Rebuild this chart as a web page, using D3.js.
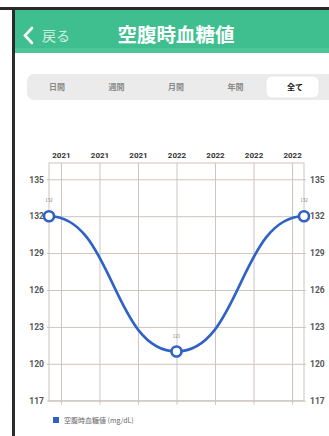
<!DOCTYPE html>
<html>
<head>
<meta charset="utf-8">
<script src="https://cdn.jsdelivr.net/npm/d3@7"></script>
<style>
  body { margin: 0; background: #fff; }
  svg { display: block; font-family: "Noto Sans CJK JP", "Noto Sans", sans-serif; }
</style>
</head>
<body>
<div id="chart"></div>
<script>
// データ
var tabs = ["日間", "週間", "月間", "年間", "全て"];
var xTickLabels = ["2021", "2021", "2021", "2022", "2022", "2022", "2022"];
var yTicks = [117, 120, 123, 126, 129, 132, 135];
var pointIndex = [0, 1, 2];
var values = [132, 121, 132];
var seriesName = "空腹時血糖値 (mg/dL)";

var W = 329, H = 436;
var svg = d3.select("#chart").append("svg")
  .attr("width", W)
  .attr("height", H);

// 画面の枠
svg.append("rect").attr("x", 0).attr("y", 7).attr("width", W).attr("height", 3).attr("fill", "#2a2a2a");
svg.append("rect").attr("x", 12).attr("y", 7).attr("width", 3).attr("height", H).attr("fill", "#2a2a2a");

// ヘッダー
svg.append("rect").attr("x", 15).attr("y", 10).attr("width", W).attr("height", 43).attr("fill", "#3fbf8f");
svg.append("rect").attr("x", 15).attr("y", 48).attr("width", W).attr("height", 5).attr("fill", "#4cc598");
svg.append("path")
  .attr("d", "M32,28 L25,35.5 L32,43")
  .attr("fill", "none").attr("stroke", "#fff").attr("stroke-width", 2.6).attr("stroke-linecap", "round");
svg.append("text").attr("x", 42).attr("y", 41).attr("fill", "#fff").attr("fill-opacity", 0.75)
  .attr("font-size", 14).text("戻る");
svg.append("text").attr("x", 176).attr("y", 42).attr("fill", "#fff").attr("text-anchor", "middle")
  .attr("font-size", 19.5).attr("font-weight", 700).text("空腹時血糖値");

// 期間タブ
svg.append("rect").attr("x", 27).attr("y", 74).attr("width", 320).attr("height", 26).attr("rx", 7)
  .attr("fill", "#ebebeb");
var tabX = d3.scalePoint().domain(tabs).range([57, 295]);
svg.append("rect").attr("x", 266).attr("y", 76).attr("width", 53).attr("height", 22).attr("rx", 6)
  .attr("fill", "#fff").attr("stroke", "#ddd").attr("stroke-width", 0.6);
svg.append("g").selectAll("text").data(tabs).enter().append("text")
  .attr("x", d => tabX(d)).attr("y", 90)
  .attr("text-anchor", "middle").attr("font-size", 8).attr("font-weight", 700)
  .attr("fill", d => d == "全て" ? "#111" : "#8a8a8a")
  .text(d => d);

// チャート
var plotL = 49, plotR = 304, plotT = 163, plotB = 400.7;
var y = d3.scaleLinear().domain([117, 135]).range([plotB, 179.3]);
var x = d3.scaleLinear().domain([0, 2]).range([plotL, plotR]);
var xGrid = d3.scalePoint().domain(d3.range(xTickLabels.length)).range([plotL, plotR]).padding(0.31);

var gridColor = "#cdc4bd";

// 縦グリッド + 上ラベル
var gx = svg.append("g").attr("transform", "translate(0," + plotT + ")")
  .call(d3.axisTop(xGrid).tickSize(-(plotB - plotT) - 4).tickPadding(5).tickFormat(i => xTickLabels[i]));
gx.select(".domain").remove();
gx.selectAll(".tick line").attr("stroke", gridColor);
gx.selectAll(".tick text").attr("y", -5).attr("fill", "#333").attr("font-size", 8).attr("font-weight", 700)
  .attr("font-family", "Roboto, sans-serif");

// 横グリッド + 左ラベル
var gy = svg.append("g").attr("transform", "translate(" + plotL + ",0)")
  .call(d3.axisLeft(y).tickValues(yTicks).tickSize(-(plotR - plotL)).tickPadding(5).tickSizeOuter(0));
gy.select(".domain").remove();
gy.selectAll(".tick line").attr("stroke", gridColor).attr("x1", -2);
gy.selectAll(".tick text").attr("fill", "#555").attr("font-size", 8.5).attr("font-weight", 700)
  .attr("font-family", "Roboto, sans-serif");

// 右ラベル
var gyr = svg.append("g").attr("transform", "translate(" + plotR + ",0)")
  .call(d3.axisRight(y).tickValues(yTicks).tickSize(2).tickPadding(4).tickSizeOuter(0));
gyr.select(".domain").remove();
gyr.selectAll(".tick line").attr("stroke", gridColor);
gyr.selectAll(".tick text").attr("fill", "#555").attr("font-size", 8.5).attr("font-weight", 700)
  .attr("font-family", "Roboto, sans-serif");

// 枠
svg.append("rect").attr("x", plotL).attr("y", plotT).attr("width", plotR - plotL).attr("height", plotB - plotT)
  .attr("fill", "none").attr("stroke", gridColor).attr("stroke-width", 1);

// 線
var line = d3.line()
  .x((d, i) => x(pointIndex[i]))
  .y(d => y(d))
  .curve(d3.curveBumpX);
svg.append("path").datum(values)
  .attr("d", line)
  .attr("fill", "none").attr("stroke", "#2f62c4").attr("stroke-width", 2.6);

// 点
svg.append("g").selectAll("circle").data(values).enter().append("circle")
  .attr("cx", (d, i) => x(pointIndex[i])).attr("cy", d => y(d)).attr("r", 5)
  .attr("fill", "#fff").attr("stroke", "#2f62c4").attr("stroke-width", 2.6);

svg.append("g").selectAll("text").data(values).enter().append("text")
  .attr("x", (d, i) => x(pointIndex[i])).attr("y", d => y(d) - 14)
  .attr("text-anchor", "middle").attr("font-size", 4.5).attr("fill", "#777")
  .text(d => d);

// 凡例
svg.append("rect").attr("x", 53).attr("y", 417).attr("width", 6).attr("height", 6).attr("fill", "#2f62c4");
svg.append("text").attr("x", 64).attr("y", 423).attr("font-size", 7).attr("fill", "#666")
  .text(seriesName);
</script>
</body>
</html>
